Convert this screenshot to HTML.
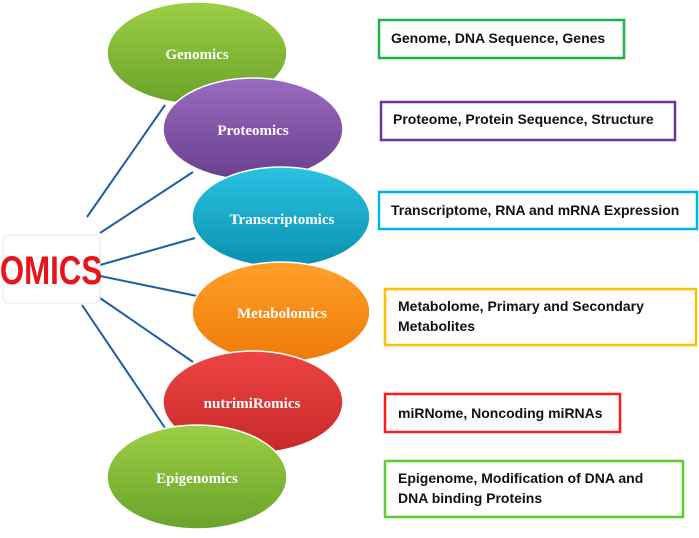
<!DOCTYPE html>
<html><head><meta charset="utf-8"><style>
body{margin:0;background:#fff;}
svg{display:block}
.e{font-family:"Liberation Serif",serif;font-weight:bold;font-size:15px;fill:#fff;text-anchor:middle}
.t{font-family:"Liberation Sans",sans-serif;font-weight:bold;font-size:14px;fill:#111}
</style></head><body>
<svg width="699" height="538" viewBox="0 0 699 538" xmlns="http://www.w3.org/2000/svg">
<defs>
<linearGradient id="gG" x1="0" y1="0" x2="0" y2="1"><stop offset="0" stop-color="#9ccf45"/><stop offset="1" stop-color="#6aa32a"/></linearGradient>
<linearGradient id="gP" x1="0" y1="0" x2="0" y2="1"><stop offset="0" stop-color="#9a6cc0"/><stop offset="1" stop-color="#6a3f8e"/></linearGradient>
<linearGradient id="gC" x1="0" y1="0" x2="0" y2="1"><stop offset="0" stop-color="#2cc2e2"/><stop offset="1" stop-color="#0890b0"/></linearGradient>
<linearGradient id="gO" x1="0" y1="0" x2="0" y2="1"><stop offset="0" stop-color="#ffa02a"/><stop offset="1" stop-color="#ef7a08"/></linearGradient>
<linearGradient id="gR" x1="0" y1="0" x2="0" y2="1"><stop offset="0" stop-color="#ec4444"/><stop offset="1" stop-color="#c82828"/></linearGradient>
</defs>
<g stroke="#1a5fa8" stroke-width="2">
<line x1="87" y1="217" x2="165" y2="105"/>
<line x1="100" y1="233" x2="193" y2="172"/>
<line x1="100" y1="265" x2="195" y2="238"/>
<line x1="100" y1="276" x2="197" y2="296"/>
<line x1="100" y1="298" x2="193" y2="362"/>
<line x1="82" y1="305" x2="165" y2="428"/>
</g>
<rect x="3" y="235" width="97" height="68" rx="6" fill="#fff" stroke="#e4e4e4"/>
<text x="51" y="284" text-anchor="middle" font-family="Liberation Sans,sans-serif" font-weight="bold" font-size="40" fill="#e8141c" transform="translate(51 0) scale(0.78 1) translate(-51 0)">OMICS</text>
<g stroke="#fff" stroke-width="1.5">
<ellipse cx="197" cy="53" rx="90" ry="51" fill="url(#gG)"/>
<ellipse cx="253" cy="129" rx="90" ry="51" fill="url(#gP)"/>
<ellipse cx="281" cy="217" rx="89" ry="50" fill="url(#gC)"/>
<ellipse cx="281" cy="312" rx="89" ry="50" fill="url(#gO)"/>
<ellipse cx="253" cy="402" rx="90" ry="51" fill="url(#gR)"/>
<ellipse cx="197" cy="477" rx="90" ry="52" fill="url(#gG)"/>
</g>
<text class="e" x="197" y="59">Genomics</text>
<text class="e" x="253" y="135">Proteomics</text>
<text class="e" x="282" y="224">Transcriptomics</text>
<text class="e" x="282" y="318">Metabolomics</text>
<text class="e" x="252" y="408">nutrimiRomics</text>
<text class="e" x="197" y="483">Epigenomics</text>
<g fill="#fff" stroke-width="2.5">
<rect x="379" y="20" width="245" height="38" stroke="#1db34a"/>
<rect x="381" y="102" width="294" height="38" stroke="#7030a0"/>
<rect x="379" y="192" width="318" height="37" stroke="#00b4f0"/>
<rect x="385" y="289" width="311" height="56" stroke="#ffc000"/>
<rect x="385" y="394" width="235" height="38" stroke="#ff1a1a"/>
<rect x="385" y="461" width="298" height="56" stroke="#5ecc2e"/>
</g>
<text class="t" x="391" y="43">Genome, DNA Sequence, Genes</text>
<text class="t" x="393" y="124">Proteome, Protein Sequence, Structure</text>
<text class="t" x="391" y="215">Transcriptome, RNA and mRNA Expression</text>
<text class="t" x="398" y="311">Metabolome, Primary and Secondary</text>
<text class="t" x="398" y="331">Metabolites</text>
<text class="t" x="398" y="418">miRNome, Noncoding miRNAs</text>
<text class="t" x="398" y="483">Epigenome, Modification of DNA and</text>
<text class="t" x="398" y="503">DNA binding Proteins</text>
</svg>
</body></html>
